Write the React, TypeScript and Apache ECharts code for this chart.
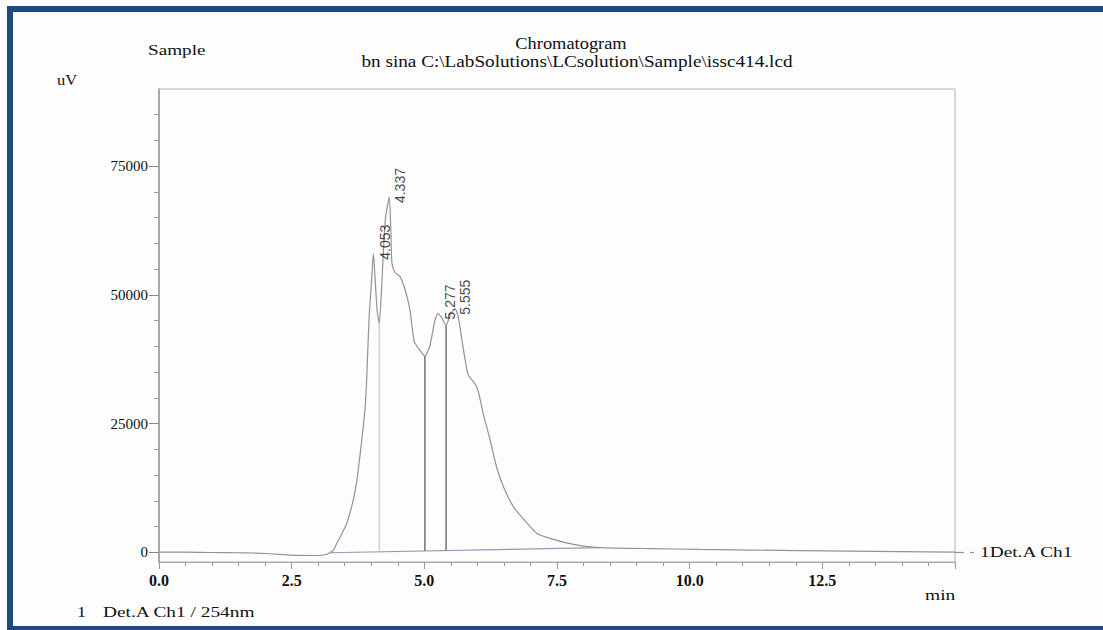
import React, { useEffect, useRef } from "react";
import * as echarts from "echarts";

// Trace (min, uV)
const traceTimes = [0, 0.5, 1.0, 1.5, 1.75, 2.1, 2.5, 2.98, 3.13, 3.22, 3.30, 3.35, 3.45, 3.54, 3.66, 3.73, 3.81, 3.88, 3.91, 3.96, 4.01, 4.04, 4.07, 4.11, 4.15, 4.19, 4.23, 4.27, 4.34, 4.37, 4.39, 4.45, 4.54, 4.64, 4.73, 4.81, 4.92, 5.01, 5.10, 5.20, 5.26, 5.33, 5.41, 5.50, 5.58, 5.64, 5.70, 5.77, 5.83, 5.95, 6.02, 6.11, 6.24, 6.36, 6.49, 6.68, 6.86, 7.12, 7.37, 7.68, 8.00, 8.31, 9.25, 10.19, 12.08, 13.96, 15.0];
const traceValues = [0, 0, -50, -100, -150, -300, -580, -640, -490, -100, 600, 1750, 3700, 5640, 10100, 14000, 20800, 27600, 32800, 45700, 53500, 58000, 53500, 47000, 44500, 50300, 58700, 65100, 69000, 61900, 56100, 54300, 53600, 50900, 47000, 40900, 39200, 38100, 39900, 45100, 46400, 45500, 44100, 46400, 47300, 45700, 41800, 37300, 34400, 32800, 31100, 26900, 21800, 16600, 12700, 8800, 6550, 3650, 2700, 1800, 1200, 900, 700, 550, 300, 100, 0];

// Integration baseline
const baselineTimes = [3.22, 8.31];
const baselineValues = [-100, 900];

// Drop lines
const dropTimes = [4.15, 5.01, 5.41];
const dropTops = [44500, 38100, 44100];
const dropBottoms = [83, 252, 330];

// Peak labels
const peakTimes = [4.053, 4.337, 5.277, 5.555];
const peakHeights = [58000, 69000, 46400, 47300];
const peakLabels = ["4.053", "4.337", "5.277", "5.555"];

// Axis ticks
const yMajorTicks = [0, 25000, 50000, 75000];
const yMinorTicks = [5000, 10000, 15000, 20000, 30000, 35000, 40000, 45000, 55000, 60000, 65000, 70000, 80000, 85000];

const SERIF = "'Liberation Serif', 'Times New Roman', serif";

export default function App() {
  const ref = useRef<HTMLDivElement>(null);
  useEffect(() => {
    if (!ref.current) return;
    const chart = echarts.init(ref.current, null, { renderer: "svg" });
    const yMin = -1900;
    const yMax = 90000;
    const dropStyles = [
      { color: "#bdbdbd", width: 1 },
      { color: "#7a7a7a", width: 1.6 },
      { color: "#7a7a7a", width: 1.6 },
    ];
    const txt = (x: number, y: number, text: string, size: number, sx = 1, align = "left") => ({
      type: "text",
      x,
      y,
      scaleX: sx,
      style: { text, fill: "#111", font: `${size}px ${SERIF}`, textAlign: align, textVerticalAlign: "middle" },
    });
    const option: any = {
      animation: false,
      backgroundColor: "#fdfdfd",
      grid: {
        left: 159,
        top: 89,
        width: 796,
        height: 473,
        show: true,
        borderColor: "#b4aea8",
        borderWidth: 1,
        backgroundColor: "transparent",
      },
      xAxis: [
        {
          type: "value",
          min: 0,
          max: 15,
          interval: 0.5,
          position: "bottom",
          axisLine: { show: true, onZero: false, lineStyle: { color: "#a8a8a8", width: 1 } },
          axisTick: { show: true, length: 4, lineStyle: { color: "#999" } },
          axisLabel: { show: false },
          splitLine: { show: false },
        },
        {
          type: "value",
          min: 0,
          max: 15,
          interval: 2.5,
          position: "bottom",
          axisLine: { show: false, onZero: false },
          axisTick: { show: true, length: 7, lineStyle: { color: "#999" } },
          axisLabel: {
            show: true,
            margin: 10,
            color: "#111",
            fontFamily: SERIF,
            fontSize: 16,
            fontWeight: "bold",
            formatter: (v: number) => (v >= 15 ? "" : v.toFixed(1)),
          },
          splitLine: { show: false },
        },
      ],
      yAxis: [
        {
          type: "value",
          min: yMin,
          max: yMax,
          position: "left",
          axisLine: { show: true, onZero: false, lineStyle: { color: "#9a9a9a", width: 1.5 } },
          axisTick: { show: true, length: 10, customValues: yMajorTicks, lineStyle: { color: "#888" } },
          axisLabel: {
            show: true,
            customValues: yMajorTicks,
            margin: 11,
            color: "#111",
            fontFamily: SERIF,
            fontSize: 15,
            formatter: (v: number) => String(v),
          },
          splitLine: { show: false },
        },
        {
          type: "value",
          min: yMin,
          max: yMax,
          position: "left",
          axisLine: { show: false, onZero: false },
          axisTick: { show: true, length: 5, customValues: yMinorTicks, lineStyle: { color: "#999" } },
          axisLabel: { show: false },
          splitLine: { show: false },
        },
      ],
      series: [
        {
          type: "line",
          name: "baseline",
          xAxisIndex: 0,
          yAxisIndex: 0,
          data: baselineTimes.map((t, i) => [t, baselineValues[i]]),
          symbol: "none",
          lineStyle: { color: "#a493b8", width: 1.2 },
          z: 2,
        },
        ...dropTimes.map((t, i) => ({
          type: "line",
          name: "drop" + i,
          xAxisIndex: 0,
          yAxisIndex: 0,
          data: [
            [t, dropTops[i]],
            [t, dropBottoms[i]],
          ],
          symbol: "none",
          lineStyle: dropStyles[i],
          z: 2,
        })),
        {
          type: "line",
          name: "Det.A Ch1",
          xAxisIndex: 0,
          yAxisIndex: 0,
          data: traceTimes.map((t, i) => [t, traceValues[i]]),
          symbol: "none",
          smooth: 0.2,
          lineStyle: { color: "#939393", width: 1.2 },
          z: 3,
        },
        {
          type: "scatter",
          name: "peaks",
          xAxisIndex: 0,
          yAxisIndex: 0,
          symbolSize: 0,
          data: peakTimes.map((t, i) => ({ value: [t, peakHeights[i]], name: peakLabels[i] })),
          label: {
            show: true,
            formatter: (p: any) => p.name,
            position: "inside",
            rotate: 90,
            align: "left",
            verticalAlign: "middle",
            offset: [-6, 11],
            color: "#111",
            fontFamily: "'Liberation Sans Narrow', 'Liberation Sans', sans-serif",
            fontSize: 14,
          },
          z: 4,
        },
      ],
      graphic: [
        {
          type: "rect",
          shape: { x: 10, y: 9, width: 1110, height: 620 },
          style: { fill: "none", stroke: "#1f4a7d", lineWidth: 6 },
          z: 100,
        },
        txt(148, 50, "Sample", 15, 1.28),
        txt(571, 44, "Chromatogram", 16, 1.15, "center"),
        txt(577, 62, "bn sina C:\\LabSolutions\\LCsolution\\Sample\\issc414.lcd", 16, 1.2, "center"),
        txt(57, 80, "uV", 15, 1.1),
        txt(925, 595, "min", 15, 1.3),
        txt(77, 612, "1", 15, 1.2),
        txt(103, 612, "Det.A Ch1 / 254nm", 15, 1.29),
        {
          type: "line",
          shape: { x1: 955, y1: 552.5, x2: 964, y2: 552.5 },
          style: { stroke: "#939393", lineWidth: 1.2 },
        },
        {
          type: "line",
          shape: { x1: 970, y1: 552.5, x2: 974, y2: 552.5 },
          style: { stroke: "#939393", lineWidth: 1.2 },
        },
        txt(980, 552, "1Det.A Ch1", 15, 1.29),
      ],
    };
    chart.setOption(option);
    return () => chart.dispose();
  }, []);
  return (
    <div
      ref={ref}
      style={{ position: "absolute", left: 0, top: 0, width: 1103, height: 630, background: "#fdfdfd" }}
    />
  );
}
